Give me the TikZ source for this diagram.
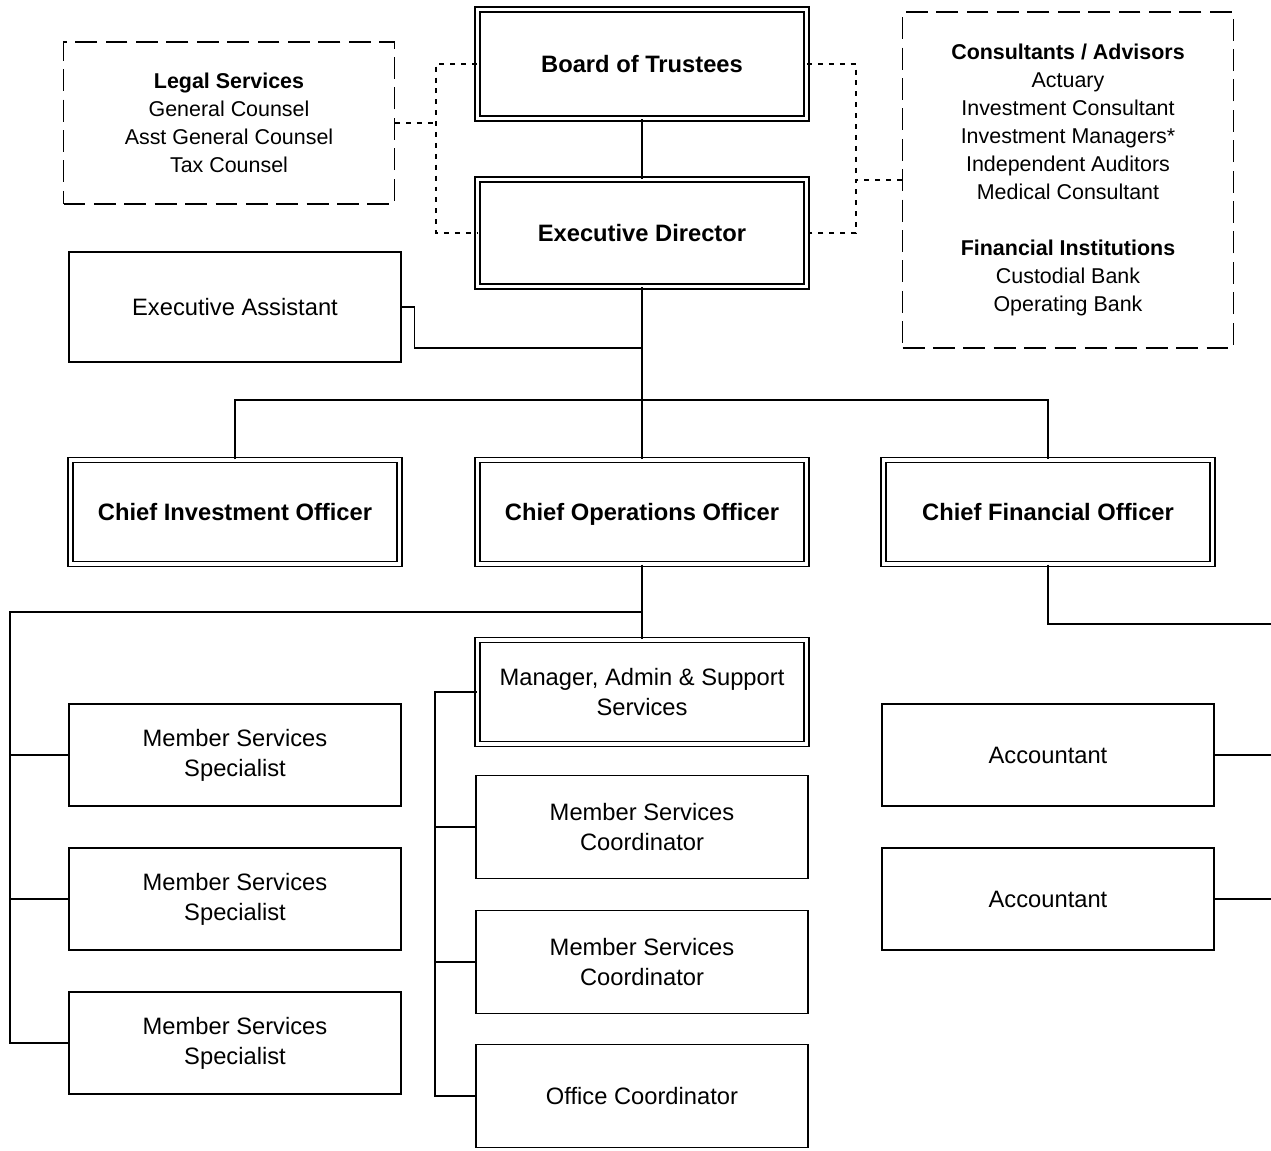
\documentclass[tikz,border=0pt]{standalone}
\usepackage{fontspec}
\setmainfont{Liberation Sans}
\usetikzlibrary{calc}

\begin{document}
\begin{tikzpicture}[
  x=0.02cm, y=-0.02cm,
  every node/.style={align=center,inner sep=0pt,font=\fontsize{13.5}{17}\selectfont},
  post/.style={draw,line width=0.75pt,minimum width=6.64cm,minimum height=2.08cm},
  head/.style={post,double,double distance=2.2pt,minimum width=6.58cm},
  outside/.style={draw,dash pattern=on 12.5pt off 4.8pt,line width=0.75pt,minimum width=6.62cm,
    font=\fontsize{12.2}{15.9}\selectfont},
  link/.style={line width=0.75pt},
  dotlink/.style={line width=0.6pt,dash pattern=on 2.8pt off 3.4pt},
]
\useasboundingbox (0,0) rectangle (1271,1150);

% ---- Governance
\node[head,minimum height=2.18cm] (BT) at (642, 64) {\textbf{Board of Trustees}};
\node[head,minimum height=2.14cm] (ED) at (642,233) {\textbf{Executive Director}};

% ---- Outside services (dashed)
\node[outside,minimum height=3.24cm] (LS) at (229,123)
  {\textbf{Legal Services}\\General Counsel\\Asst General Counsel\\Tax Counsel};
\node[outside,minimum height=6.72cm] (CA) at (1068,180)
  {\textbf{Consultants / Advisors}\\Actuary\\Investment Consultant\\Investment Managers*\\
   Independent Auditors\\Medical Consultant\\[15.9pt]
   \textbf{Financial Institutions}\\Custodial Bank\\Operating Bank};

% ---- Staff
\node[post,minimum height=2.2cm] (EA) at (235,307) {Executive Assistant};

% ---- Chiefs
\node[head] (CIO) at ( 235,512) {\textbf{Chief Investment Officer}};
\node[head,text depth=0pt] (COO) at ( 642,512) {\textbf{Chief Operations Officer}};
\node[head] (CFO) at (1048,512) {\textbf{Chief Financial Officer}};

% ---- Operations
\node[head] (MAS) at (642,692) {Manager, Admin \& Support\\Services};
\node[post,minimum height=2.04cm] (MSS1) at (235, 755) {Member Services\\Specialist};
\node[post,minimum height=2.04cm] (MSS2) at (235, 899) {Member Services\\Specialist};
\node[post,minimum height=2.04cm] (MSS3) at (235,1043) {Member Services\\Specialist};
\node[post,minimum height=2.06cm] (MSC1) at (642, 827) {Member Services\\Coordinator};
\node[post,minimum height=2.06cm] (MSC2) at (642, 962) {Member Services\\Coordinator};
\node[post,minimum height=2.06cm] (OC)   at (642,1096) {Office Coordinator};

% ---- Finance
\node[post,minimum height=2.04cm] (ACC1) at (1048,755) {Accountant};
\node[post,minimum height=2.04cm] (ACC2) at (1048,899) {Accountant};

% ---- Junction points
\coordinate (busA) at (642,400);
\coordinate (eaJ)  at (642,348);
\coordinate (busB) at (642,612);
\coordinate (busBL) at (10,612);
\coordinate (busC) at (435,0);
\coordinate (rimR) at (1271,624);
\coordinate (dotL) at (436,0);
\coordinate (dotR) at (856,0);

% ---- Solid reporting lines
\draw[link] (BT) -- (ED);
\draw[link] (ED) -- (busA);
\draw[link] (EA.east) -- ++(13,0) |- (eaJ);
\draw[link] (CIO.north) |- (busA) -| (CFO.north);
\draw[link] (busA) -- (COO);
\draw[link] (COO) -- (MAS);
\draw[link] (busB) -- (busBL) |- (MSS3.west);
\draw[link] (MSS1.west) -- (MSS1.west -| busBL);
\draw[link] (MSS2.west) -- (MSS2.west -| busBL);
\draw[link] (MAS.west) -- (MAS.west -| busC) |- (OC.west);
\draw[link] (MSC1.west) -- (MSC1.west -| busC);
\draw[link] (MSC2.west) -- (MSC2.west -| busC);
\draw[link] (CFO.south) |- (rimR);
\draw[link] (ACC1.east) -- (ACC1.east -| rimR);
\draw[link] (ACC2.east) -- (ACC2.east -| rimR);

% ---- Dotted advisory lines
\draw[dotlink] (BT.west) -- (BT.west -| dotL) |- (ED.west);
\draw[dotlink] (LS.east) -- (LS.east -| dotL);
\draw[dotlink] (BT.east) -- (BT.east -| dotR) |- (ED.east);
\draw[dotlink] (CA.west) -- (CA.west -| dotR);

\end{tikzpicture}
\end{document}
